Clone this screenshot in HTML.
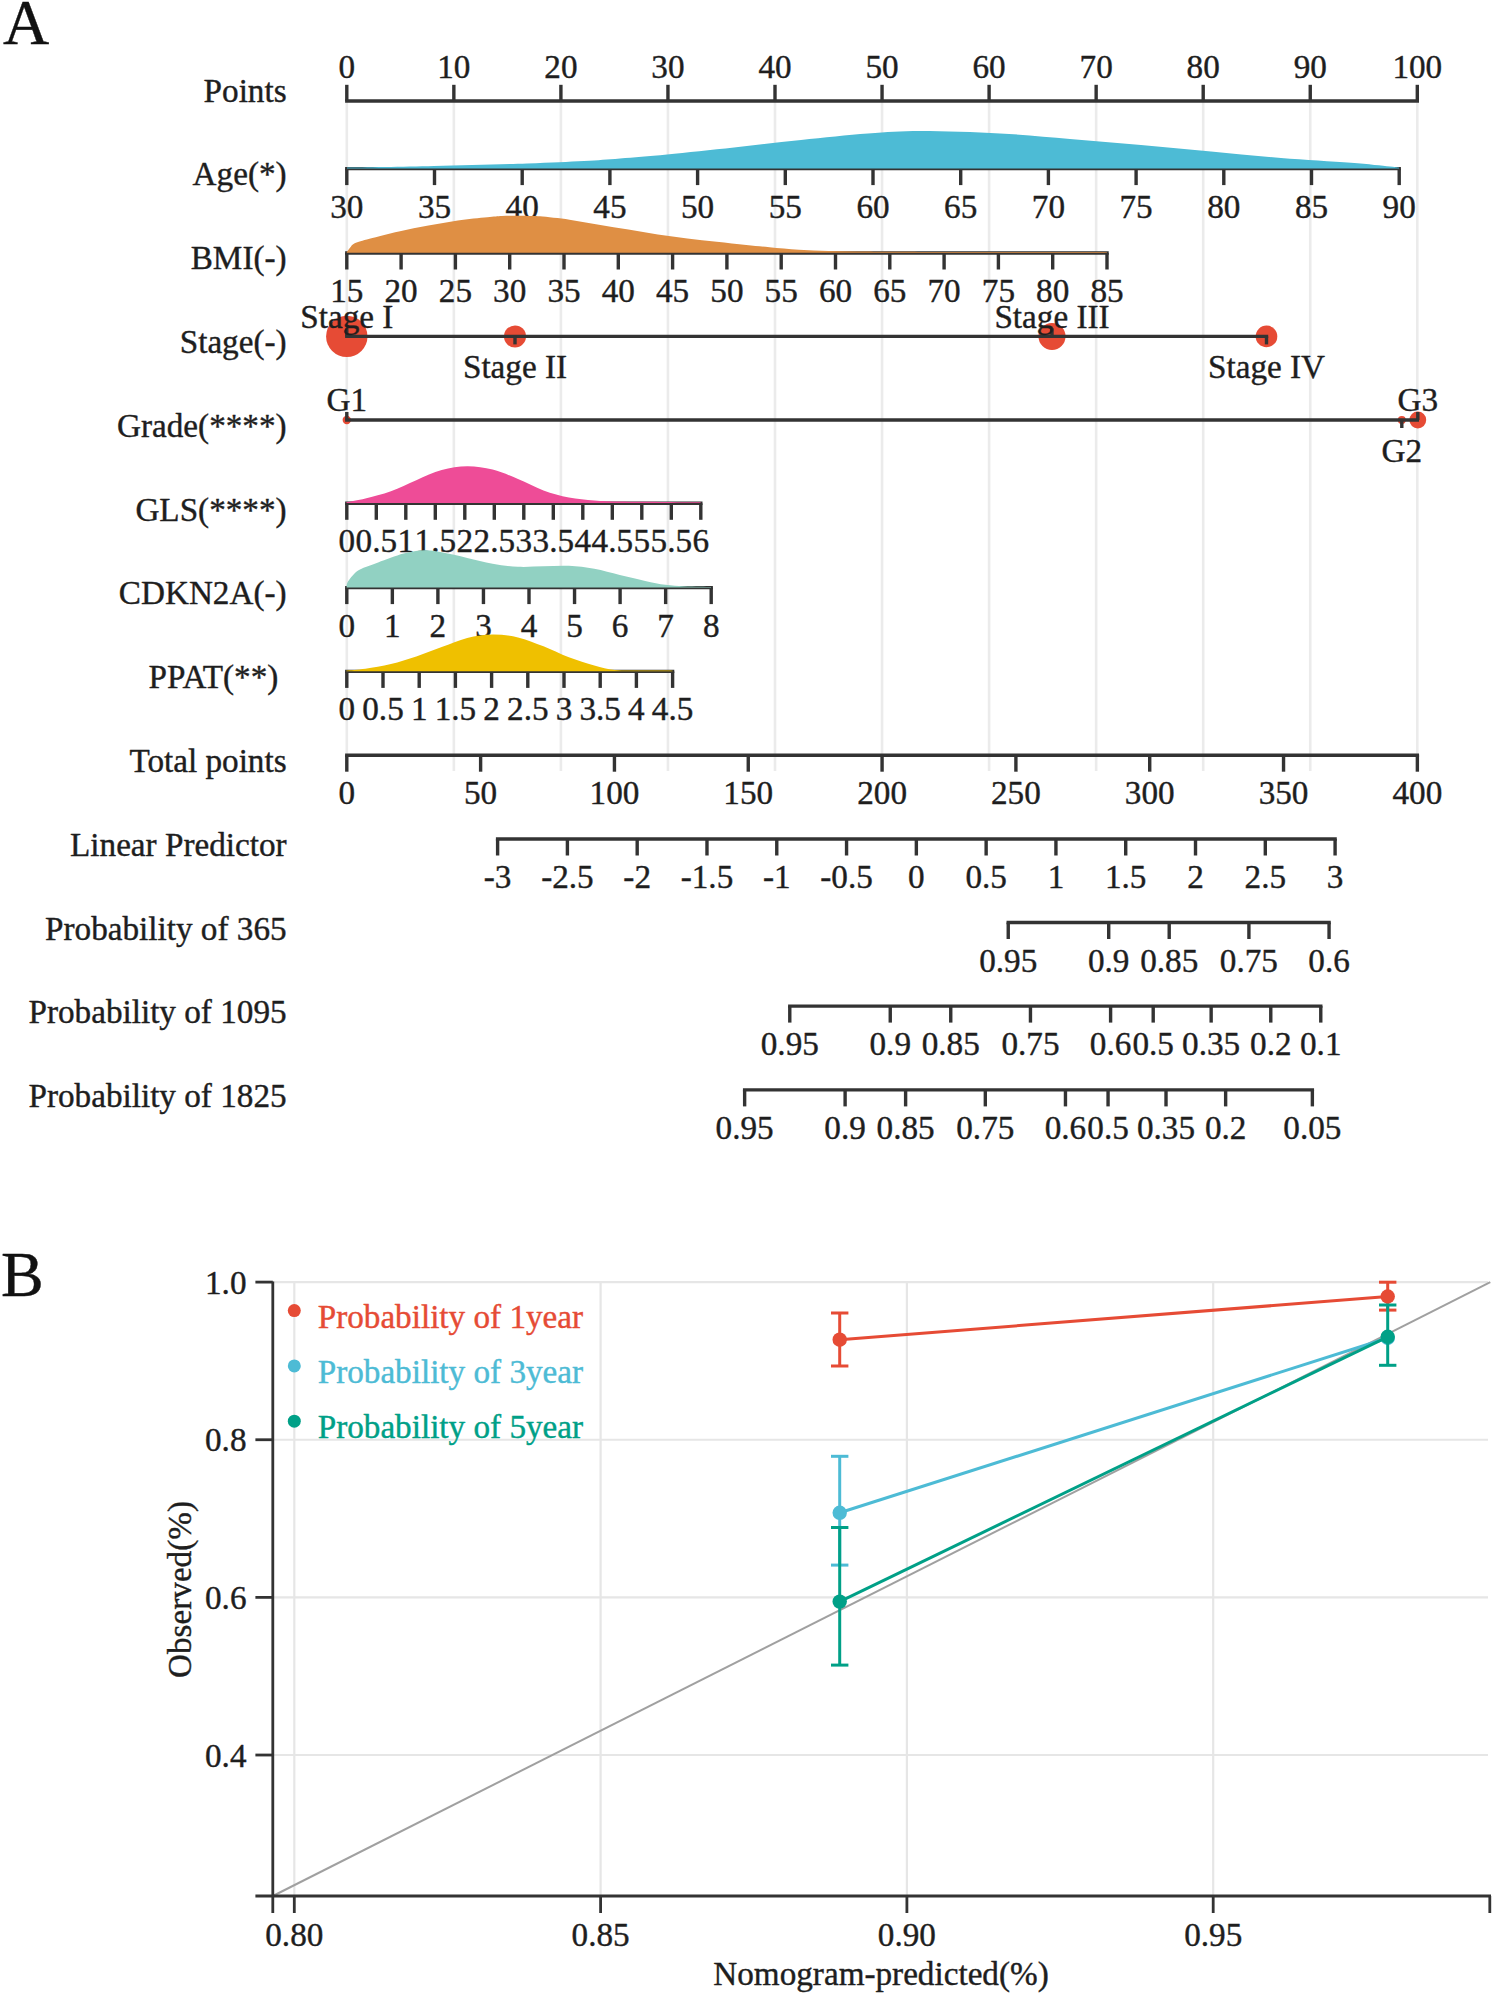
<!DOCTYPE html>
<html><head><meta charset="utf-8"><title>Nomogram and calibration</title>
<style>
html,body{margin:0;padding:0;background:#fff;}
body{width:1494px;height:1996px;overflow:hidden;}
svg{display:block;}
#wrap{}
text{font-family:"Liberation Serif",serif;stroke-width:0.4px;stroke-linejoin:round;}
</style></head>
<body>
<div id="wrap"><svg width="1494" height="1996" viewBox="0 0 1494 1996">
<rect x="0" y="0" width="1494" height="1996" fill="#fff"/>
<g>
<line x1="346.8" y1="101" x2="346.8" y2="771" stroke="#ebebeb" stroke-width="2.6"/>
<line x1="453.85" y1="101" x2="453.85" y2="771" stroke="#ebebeb" stroke-width="2.6"/>
<line x1="560.9" y1="101" x2="560.9" y2="771" stroke="#ebebeb" stroke-width="2.6"/>
<line x1="667.95" y1="101" x2="667.95" y2="771" stroke="#ebebeb" stroke-width="2.6"/>
<line x1="775" y1="101" x2="775" y2="771" stroke="#ebebeb" stroke-width="2.6"/>
<line x1="882.05" y1="101" x2="882.05" y2="771" stroke="#ebebeb" stroke-width="2.6"/>
<line x1="989.1" y1="101" x2="989.1" y2="771" stroke="#ebebeb" stroke-width="2.6"/>
<line x1="1096.15" y1="101" x2="1096.15" y2="771" stroke="#ebebeb" stroke-width="2.6"/>
<line x1="1203.2" y1="101" x2="1203.2" y2="771" stroke="#ebebeb" stroke-width="2.6"/>
<line x1="1310.25" y1="101" x2="1310.25" y2="771" stroke="#ebebeb" stroke-width="2.6"/>
<line x1="1417.3" y1="101" x2="1417.3" y2="771" stroke="#ebebeb" stroke-width="2.6"/>
<text x="3" y="43.5" text-anchor="start" font-size="64" fill="#111" stroke="#111">A</text>
<text x="286.6" y="101.6" text-anchor="end" font-size="33.2" fill="#1e1e1e" stroke="#1e1e1e">Points</text>
<text x="286.6" y="185.4" text-anchor="end" font-size="33.2" fill="#1e1e1e" stroke="#1e1e1e">Age(*)</text>
<text x="286.6" y="269.2" text-anchor="end" font-size="33.2" fill="#1e1e1e" stroke="#1e1e1e">BMI(-)</text>
<text x="286.6" y="353" text-anchor="end" font-size="33.2" fill="#1e1e1e" stroke="#1e1e1e">Stage(-)</text>
<text x="286.6" y="436.8" text-anchor="end" font-size="33.2" fill="#1e1e1e" stroke="#1e1e1e">Grade(****)</text>
<text x="286.6" y="520.6" text-anchor="end" font-size="33.2" fill="#1e1e1e" stroke="#1e1e1e">GLS(****)</text>
<text x="286.6" y="604.4" text-anchor="end" font-size="33.2" fill="#1e1e1e" stroke="#1e1e1e">CDKN2A(-)</text>
<text x="286.6" y="688.2" text-anchor="end" font-size="33.2" fill="#1e1e1e" stroke="#1e1e1e">PPAT(**) </text>
<text x="286.6" y="772" text-anchor="end" font-size="33.2" fill="#1e1e1e" stroke="#1e1e1e">Total points</text>
<text x="286.6" y="855.8" text-anchor="end" font-size="33.2" fill="#1e1e1e" stroke="#1e1e1e">Linear Predictor</text>
<text x="286.6" y="939.6" text-anchor="end" font-size="33.2" fill="#1e1e1e" stroke="#1e1e1e">Probability of 365</text>
<text x="286.6" y="1023.4" text-anchor="end" font-size="33.2" fill="#1e1e1e" stroke="#1e1e1e">Probability of 1095</text>
<text x="286.6" y="1107.2" text-anchor="end" font-size="33.2" fill="#1e1e1e" stroke="#1e1e1e">Probability of 1825</text>
<line x1="345.1" y1="101" x2="1419" y2="101" stroke="#333333" stroke-width="3.4"/>
<line x1="346.8" y1="101" x2="346.8" y2="84.8" stroke="#333333" stroke-width="3.4"/>
<text x="346.8" y="77.5" text-anchor="middle" font-size="33.2" fill="#1e1e1e" stroke="#1e1e1e">0</text>
<line x1="453.85" y1="101" x2="453.85" y2="84.8" stroke="#333333" stroke-width="3.4"/>
<text x="453.85" y="77.5" text-anchor="middle" font-size="33.2" fill="#1e1e1e" stroke="#1e1e1e">10</text>
<line x1="560.9" y1="101" x2="560.9" y2="84.8" stroke="#333333" stroke-width="3.4"/>
<text x="560.9" y="77.5" text-anchor="middle" font-size="33.2" fill="#1e1e1e" stroke="#1e1e1e">20</text>
<line x1="667.95" y1="101" x2="667.95" y2="84.8" stroke="#333333" stroke-width="3.4"/>
<text x="667.95" y="77.5" text-anchor="middle" font-size="33.2" fill="#1e1e1e" stroke="#1e1e1e">30</text>
<line x1="775" y1="101" x2="775" y2="84.8" stroke="#333333" stroke-width="3.4"/>
<text x="775" y="77.5" text-anchor="middle" font-size="33.2" fill="#1e1e1e" stroke="#1e1e1e">40</text>
<line x1="882.05" y1="101" x2="882.05" y2="84.8" stroke="#333333" stroke-width="3.4"/>
<text x="882.05" y="77.5" text-anchor="middle" font-size="33.2" fill="#1e1e1e" stroke="#1e1e1e">50</text>
<line x1="989.1" y1="101" x2="989.1" y2="84.8" stroke="#333333" stroke-width="3.4"/>
<text x="989.1" y="77.5" text-anchor="middle" font-size="33.2" fill="#1e1e1e" stroke="#1e1e1e">60</text>
<line x1="1096.15" y1="101" x2="1096.15" y2="84.8" stroke="#333333" stroke-width="3.4"/>
<text x="1096.15" y="77.5" text-anchor="middle" font-size="33.2" fill="#1e1e1e" stroke="#1e1e1e">70</text>
<line x1="1203.2" y1="101" x2="1203.2" y2="84.8" stroke="#333333" stroke-width="3.4"/>
<text x="1203.2" y="77.5" text-anchor="middle" font-size="33.2" fill="#1e1e1e" stroke="#1e1e1e">80</text>
<line x1="1310.25" y1="101" x2="1310.25" y2="84.8" stroke="#333333" stroke-width="3.4"/>
<text x="1310.25" y="77.5" text-anchor="middle" font-size="33.2" fill="#1e1e1e" stroke="#1e1e1e">90</text>
<line x1="1417.3" y1="101" x2="1417.3" y2="84.8" stroke="#333333" stroke-width="3.4"/>
<text x="1417.3" y="77.5" text-anchor="middle" font-size="33.2" fill="#1e1e1e" stroke="#1e1e1e">100</text>
<line x1="345.1" y1="168.6" x2="1400.9" y2="168.6" stroke="#333333" stroke-width="3.4"/>
<line x1="346.8" y1="168.6" x2="346.8" y2="185.1" stroke="#333333" stroke-width="3.4"/>
<text x="346.8" y="217.6" text-anchor="middle" font-size="33.2" fill="#1e1e1e" stroke="#1e1e1e">30</text>
<line x1="434.5" y1="168.6" x2="434.5" y2="185.1" stroke="#333333" stroke-width="3.4"/>
<text x="434.5" y="217.6" text-anchor="middle" font-size="33.2" fill="#1e1e1e" stroke="#1e1e1e">35</text>
<line x1="522.2" y1="168.6" x2="522.2" y2="185.1" stroke="#333333" stroke-width="3.4"/>
<text x="522.2" y="217.6" text-anchor="middle" font-size="33.2" fill="#1e1e1e" stroke="#1e1e1e">40</text>
<line x1="609.9" y1="168.6" x2="609.9" y2="185.1" stroke="#333333" stroke-width="3.4"/>
<text x="609.9" y="217.6" text-anchor="middle" font-size="33.2" fill="#1e1e1e" stroke="#1e1e1e">45</text>
<line x1="697.6" y1="168.6" x2="697.6" y2="185.1" stroke="#333333" stroke-width="3.4"/>
<text x="697.6" y="217.6" text-anchor="middle" font-size="33.2" fill="#1e1e1e" stroke="#1e1e1e">50</text>
<line x1="785.3" y1="168.6" x2="785.3" y2="185.1" stroke="#333333" stroke-width="3.4"/>
<text x="785.3" y="217.6" text-anchor="middle" font-size="33.2" fill="#1e1e1e" stroke="#1e1e1e">55</text>
<line x1="873" y1="168.6" x2="873" y2="185.1" stroke="#333333" stroke-width="3.4"/>
<text x="873" y="217.6" text-anchor="middle" font-size="33.2" fill="#1e1e1e" stroke="#1e1e1e">60</text>
<line x1="960.7" y1="168.6" x2="960.7" y2="185.1" stroke="#333333" stroke-width="3.4"/>
<text x="960.7" y="217.6" text-anchor="middle" font-size="33.2" fill="#1e1e1e" stroke="#1e1e1e">65</text>
<line x1="1048.4" y1="168.6" x2="1048.4" y2="185.1" stroke="#333333" stroke-width="3.4"/>
<text x="1048.4" y="217.6" text-anchor="middle" font-size="33.2" fill="#1e1e1e" stroke="#1e1e1e">70</text>
<line x1="1136.1" y1="168.6" x2="1136.1" y2="185.1" stroke="#333333" stroke-width="3.4"/>
<text x="1136.1" y="217.6" text-anchor="middle" font-size="33.2" fill="#1e1e1e" stroke="#1e1e1e">75</text>
<line x1="1223.8" y1="168.6" x2="1223.8" y2="185.1" stroke="#333333" stroke-width="3.4"/>
<text x="1223.8" y="217.6" text-anchor="middle" font-size="33.2" fill="#1e1e1e" stroke="#1e1e1e">80</text>
<line x1="1311.5" y1="168.6" x2="1311.5" y2="185.1" stroke="#333333" stroke-width="3.4"/>
<text x="1311.5" y="217.6" text-anchor="middle" font-size="33.2" fill="#1e1e1e" stroke="#1e1e1e">85</text>
<line x1="1399.2" y1="168.6" x2="1399.2" y2="185.1" stroke="#333333" stroke-width="3.4"/>
<text x="1399.2" y="217.6" text-anchor="middle" font-size="33.2" fill="#1e1e1e" stroke="#1e1e1e">90</text>
<path d="M 347 168.4 L 347 167.6 C 361.5 167.32 404 166.6 434 165.9 C 464 165.2 502 164.23 527 163.4 C 552 162.57 568.5 161.73 584 160.9 C 599.5 160.07 606.17 159.48 620 158.4 C 633.83 157.32 648 156.23 667 154.4 C 686 152.57 711.67 149.82 734 147.4 C 756.33 144.98 778.67 142.23 801 139.9 C 823.33 137.57 848 134.9 868 133.4 C 888 131.9 899 130.9 921 130.9 C 943 130.9 975.17 132.07 1000 133.4 C 1024.83 134.73 1046.5 136.95 1070 138.9 C 1093.5 140.85 1117.5 142.98 1141 145.1 C 1164.5 147.22 1187.67 149.45 1211 151.6 C 1234.33 153.75 1257.67 156.13 1281 158 C 1304.33 159.87 1332.83 161.37 1351 162.8 C 1369.17 164.23 1382 165.77 1390 166.6 C 1398 167.43 1397.5 167.6 1399 167.8 L 1399 168.4 Z" fill="#4DBBD5"/>
<line x1="345.1" y1="253" x2="1108.7" y2="253" stroke="#333333" stroke-width="3.4"/>
<line x1="346.8" y1="253" x2="346.8" y2="269.5" stroke="#333333" stroke-width="3.4"/>
<text x="346.8" y="302" text-anchor="middle" font-size="33.2" fill="#1e1e1e" stroke="#1e1e1e">15</text>
<line x1="401.1" y1="253" x2="401.1" y2="269.5" stroke="#333333" stroke-width="3.4"/>
<text x="401.1" y="302" text-anchor="middle" font-size="33.2" fill="#1e1e1e" stroke="#1e1e1e">20</text>
<line x1="455.4" y1="253" x2="455.4" y2="269.5" stroke="#333333" stroke-width="3.4"/>
<text x="455.4" y="302" text-anchor="middle" font-size="33.2" fill="#1e1e1e" stroke="#1e1e1e">25</text>
<line x1="509.7" y1="253" x2="509.7" y2="269.5" stroke="#333333" stroke-width="3.4"/>
<text x="509.7" y="302" text-anchor="middle" font-size="33.2" fill="#1e1e1e" stroke="#1e1e1e">30</text>
<line x1="564" y1="253" x2="564" y2="269.5" stroke="#333333" stroke-width="3.4"/>
<text x="564" y="302" text-anchor="middle" font-size="33.2" fill="#1e1e1e" stroke="#1e1e1e">35</text>
<line x1="618.3" y1="253" x2="618.3" y2="269.5" stroke="#333333" stroke-width="3.4"/>
<text x="618.3" y="302" text-anchor="middle" font-size="33.2" fill="#1e1e1e" stroke="#1e1e1e">40</text>
<line x1="672.6" y1="253" x2="672.6" y2="269.5" stroke="#333333" stroke-width="3.4"/>
<text x="672.6" y="302" text-anchor="middle" font-size="33.2" fill="#1e1e1e" stroke="#1e1e1e">45</text>
<line x1="726.9" y1="253" x2="726.9" y2="269.5" stroke="#333333" stroke-width="3.4"/>
<text x="726.9" y="302" text-anchor="middle" font-size="33.2" fill="#1e1e1e" stroke="#1e1e1e">50</text>
<line x1="781.2" y1="253" x2="781.2" y2="269.5" stroke="#333333" stroke-width="3.4"/>
<text x="781.2" y="302" text-anchor="middle" font-size="33.2" fill="#1e1e1e" stroke="#1e1e1e">55</text>
<line x1="835.5" y1="253" x2="835.5" y2="269.5" stroke="#333333" stroke-width="3.4"/>
<text x="835.5" y="302" text-anchor="middle" font-size="33.2" fill="#1e1e1e" stroke="#1e1e1e">60</text>
<line x1="889.8" y1="253" x2="889.8" y2="269.5" stroke="#333333" stroke-width="3.4"/>
<text x="889.8" y="302" text-anchor="middle" font-size="33.2" fill="#1e1e1e" stroke="#1e1e1e">65</text>
<line x1="944.1" y1="253" x2="944.1" y2="269.5" stroke="#333333" stroke-width="3.4"/>
<text x="944.1" y="302" text-anchor="middle" font-size="33.2" fill="#1e1e1e" stroke="#1e1e1e">70</text>
<line x1="998.4" y1="253" x2="998.4" y2="269.5" stroke="#333333" stroke-width="3.4"/>
<text x="998.4" y="302" text-anchor="middle" font-size="33.2" fill="#1e1e1e" stroke="#1e1e1e">75</text>
<line x1="1052.7" y1="253" x2="1052.7" y2="269.5" stroke="#333333" stroke-width="3.4"/>
<text x="1052.7" y="302" text-anchor="middle" font-size="33.2" fill="#1e1e1e" stroke="#1e1e1e">80</text>
<line x1="1107" y1="253" x2="1107" y2="269.5" stroke="#333333" stroke-width="3.4"/>
<text x="1107" y="302" text-anchor="middle" font-size="33.2" fill="#1e1e1e" stroke="#1e1e1e">85</text>
<path d="M 346.8 252.8 L 346.8 252.1 C 347.33 251.38 348.68 249.27 350 247.8 C 351.32 246.33 351.45 244.8 354.7 243.3 C 357.95 241.8 362.13 240.77 369.5 238.8 C 376.87 236.83 389.08 233.7 398.9 231.5 C 408.72 229.3 418.58 227.45 428.4 225.6 C 438.22 223.75 447.98 221.8 457.8 220.4 C 467.62 219 479.93 217.93 487.3 217.2 C 494.67 216.47 497.1 216.25 502 216 C 506.9 215.75 511.87 215.72 516.7 215.7 C 521.53 215.68 527.12 215.8 531 215.9 C 534.88 216 533.58 215.67 540 216.3 C 546.42 216.93 559.68 218.28 569.5 219.7 C 579.32 221.12 589.08 223.15 598.9 224.8 C 608.72 226.45 618.58 228 628.4 229.6 C 638.22 231.2 647.98 232.93 657.8 234.4 C 667.62 235.87 677.48 237.17 687.3 238.4 C 697.12 239.63 706.88 240.7 716.7 241.8 C 726.52 242.9 737.4 244.08 746.2 245 C 755 245.92 760.72 246.5 769.5 247.3 C 778.28 248.1 789.08 249.18 798.9 249.8 C 808.72 250.42 818.58 250.7 828.4 251 C 838.22 251.3 847.98 251.47 857.8 251.6 C 867.62 251.73 871.93 251.73 887.3 251.8 C 902.67 251.87 913.38 251.93 950 252 C 986.62 252.07 1080.83 252.17 1107 252.2 L 1107 252.8 Z" fill="#DF8F44"/>
<circle cx="346.8" cy="336.4" r="20.7" fill="#E64B35"/>
<circle cx="515" cy="336.4" r="11" fill="#E64B35"/>
<circle cx="1052" cy="336.4" r="13.5" fill="#E64B35"/>
<circle cx="1266.5" cy="336.4" r="10.8" fill="#E64B35"/>
<line x1="345.1" y1="336.4" x2="1268.2" y2="336.4" stroke="#333333" stroke-width="3.4"/>
<line x1="346.8" y1="336.4" x2="346.8" y2="328.4" stroke="#333333" stroke-width="3.4"/>
<text x="346.8" y="327.9" text-anchor="middle" font-size="33.2" fill="#1e1e1e" stroke="#1e1e1e">Stage I</text>
<line x1="515" y1="336.4" x2="515" y2="344.4" stroke="#333333" stroke-width="3.4"/>
<text x="515" y="377.9" text-anchor="middle" font-size="33.2" fill="#1e1e1e" stroke="#1e1e1e">Stage II</text>
<line x1="1052" y1="336.4" x2="1052" y2="328.4" stroke="#333333" stroke-width="3.4"/>
<text x="1052" y="327.9" text-anchor="middle" font-size="33.2" fill="#1e1e1e" stroke="#1e1e1e">Stage III</text>
<line x1="1266.5" y1="336.4" x2="1266.5" y2="344.4" stroke="#333333" stroke-width="3.4"/>
<text x="1266.5" y="377.9" text-anchor="middle" font-size="33.2" fill="#1e1e1e" stroke="#1e1e1e">Stage IV</text>
<circle cx="346.8" cy="420" r="4.2" fill="#E64B35"/>
<circle cx="1401.8" cy="420" r="4" fill="#E64B35"/>
<circle cx="1417.8" cy="420" r="8.4" fill="#E64B35"/>
<line x1="345.1" y1="420" x2="1419" y2="420" stroke="#333333" stroke-width="3.4"/>
<line x1="346.8" y1="420" x2="346.8" y2="412" stroke="#333333" stroke-width="3.4"/>
<text x="346.8" y="411.2" text-anchor="middle" font-size="33.2" fill="#1e1e1e" stroke="#1e1e1e">G1</text>
<line x1="1401.8" y1="420" x2="1401.8" y2="428" stroke="#333333" stroke-width="3.4"/>
<text x="1401.8" y="462" text-anchor="middle" font-size="33.2" fill="#1e1e1e" stroke="#1e1e1e">G2</text>
<line x1="1417.8" y1="420" x2="1417.8" y2="412" stroke="#333333" stroke-width="3.4"/>
<text x="1417.8" y="411.2" text-anchor="middle" font-size="33.2" fill="#1e1e1e" stroke="#1e1e1e">G3</text>
<line x1="345.1" y1="503.3" x2="702.5" y2="503.3" stroke="#333333" stroke-width="3.4"/>
<line x1="346.8" y1="503.3" x2="346.8" y2="519.8" stroke="#333333" stroke-width="3.4"/>
<text x="346.8" y="552.3" text-anchor="middle" font-size="33.2" fill="#1e1e1e" stroke="#1e1e1e">0</text>
<line x1="376.3" y1="503.3" x2="376.3" y2="519.8" stroke="#333333" stroke-width="3.4"/>
<text x="376.3" y="552.3" text-anchor="middle" font-size="33.2" fill="#1e1e1e" stroke="#1e1e1e">0.5</text>
<line x1="405.8" y1="503.3" x2="405.8" y2="519.8" stroke="#333333" stroke-width="3.4"/>
<text x="405.8" y="552.3" text-anchor="middle" font-size="33.2" fill="#1e1e1e" stroke="#1e1e1e">1</text>
<line x1="435.3" y1="503.3" x2="435.3" y2="519.8" stroke="#333333" stroke-width="3.4"/>
<text x="435.3" y="552.3" text-anchor="middle" font-size="33.2" fill="#1e1e1e" stroke="#1e1e1e">1.5</text>
<line x1="464.8" y1="503.3" x2="464.8" y2="519.8" stroke="#333333" stroke-width="3.4"/>
<text x="464.8" y="552.3" text-anchor="middle" font-size="33.2" fill="#1e1e1e" stroke="#1e1e1e">2</text>
<line x1="494.3" y1="503.3" x2="494.3" y2="519.8" stroke="#333333" stroke-width="3.4"/>
<text x="494.3" y="552.3" text-anchor="middle" font-size="33.2" fill="#1e1e1e" stroke="#1e1e1e">2.5</text>
<line x1="523.8" y1="503.3" x2="523.8" y2="519.8" stroke="#333333" stroke-width="3.4"/>
<text x="523.8" y="552.3" text-anchor="middle" font-size="33.2" fill="#1e1e1e" stroke="#1e1e1e">3</text>
<line x1="553.3" y1="503.3" x2="553.3" y2="519.8" stroke="#333333" stroke-width="3.4"/>
<text x="553.3" y="552.3" text-anchor="middle" font-size="33.2" fill="#1e1e1e" stroke="#1e1e1e">3.5</text>
<line x1="582.8" y1="503.3" x2="582.8" y2="519.8" stroke="#333333" stroke-width="3.4"/>
<text x="582.8" y="552.3" text-anchor="middle" font-size="33.2" fill="#1e1e1e" stroke="#1e1e1e">4</text>
<line x1="612.3" y1="503.3" x2="612.3" y2="519.8" stroke="#333333" stroke-width="3.4"/>
<text x="612.3" y="552.3" text-anchor="middle" font-size="33.2" fill="#1e1e1e" stroke="#1e1e1e">4.5</text>
<line x1="641.8" y1="503.3" x2="641.8" y2="519.8" stroke="#333333" stroke-width="3.4"/>
<text x="641.8" y="552.3" text-anchor="middle" font-size="33.2" fill="#1e1e1e" stroke="#1e1e1e">5</text>
<line x1="671.3" y1="503.3" x2="671.3" y2="519.8" stroke="#333333" stroke-width="3.4"/>
<text x="671.3" y="552.3" text-anchor="middle" font-size="33.2" fill="#1e1e1e" stroke="#1e1e1e">5.5</text>
<line x1="700.8" y1="503.3" x2="700.8" y2="519.8" stroke="#333333" stroke-width="3.4"/>
<text x="700.8" y="552.3" text-anchor="middle" font-size="33.2" fill="#1e1e1e" stroke="#1e1e1e">6</text>
<path d="M 346.4 503.1 L 346.4 502.3 C 349.57 501.67 357.98 500.35 365.4 498.5 C 372.82 496.65 382.42 494.25 390.9 491.2 C 399.38 488.15 407.83 483.72 416.3 480.2 C 424.77 476.68 433.22 472.43 441.7 470.1 C 450.18 467.77 458.72 466.28 467.2 466.2 C 475.68 466.12 484.13 467.47 492.6 469.6 C 501.07 471.73 509.52 475.53 518 479 C 526.48 482.47 535.02 487.32 543.5 490.4 C 551.98 493.48 560.43 495.83 568.9 497.5 C 577.37 499.17 585.82 499.73 594.3 500.4 C 602.78 501.07 608.85 501.25 619.8 501.5 C 630.75 501.75 646.53 501.78 660 501.9 C 673.47 502.02 693.83 502.15 700.6 502.2 L 700.6 503.1 Z" fill="#EE4C97"/>
<line x1="345.1" y1="587.6" x2="712.9" y2="587.6" stroke="#333333" stroke-width="3.4"/>
<line x1="346.8" y1="587.6" x2="346.8" y2="604.1" stroke="#333333" stroke-width="3.4"/>
<text x="346.8" y="636.6" text-anchor="middle" font-size="33.2" fill="#1e1e1e" stroke="#1e1e1e">0</text>
<line x1="392.35" y1="587.6" x2="392.35" y2="604.1" stroke="#333333" stroke-width="3.4"/>
<text x="392.35" y="636.6" text-anchor="middle" font-size="33.2" fill="#1e1e1e" stroke="#1e1e1e">1</text>
<line x1="437.9" y1="587.6" x2="437.9" y2="604.1" stroke="#333333" stroke-width="3.4"/>
<text x="437.9" y="636.6" text-anchor="middle" font-size="33.2" fill="#1e1e1e" stroke="#1e1e1e">2</text>
<line x1="483.45" y1="587.6" x2="483.45" y2="604.1" stroke="#333333" stroke-width="3.4"/>
<text x="483.45" y="636.6" text-anchor="middle" font-size="33.2" fill="#1e1e1e" stroke="#1e1e1e">3</text>
<line x1="529" y1="587.6" x2="529" y2="604.1" stroke="#333333" stroke-width="3.4"/>
<text x="529" y="636.6" text-anchor="middle" font-size="33.2" fill="#1e1e1e" stroke="#1e1e1e">4</text>
<line x1="574.55" y1="587.6" x2="574.55" y2="604.1" stroke="#333333" stroke-width="3.4"/>
<text x="574.55" y="636.6" text-anchor="middle" font-size="33.2" fill="#1e1e1e" stroke="#1e1e1e">5</text>
<line x1="620.1" y1="587.6" x2="620.1" y2="604.1" stroke="#333333" stroke-width="3.4"/>
<text x="620.1" y="636.6" text-anchor="middle" font-size="33.2" fill="#1e1e1e" stroke="#1e1e1e">6</text>
<line x1="665.65" y1="587.6" x2="665.65" y2="604.1" stroke="#333333" stroke-width="3.4"/>
<text x="665.65" y="636.6" text-anchor="middle" font-size="33.2" fill="#1e1e1e" stroke="#1e1e1e">7</text>
<line x1="711.2" y1="587.6" x2="711.2" y2="604.1" stroke="#333333" stroke-width="3.4"/>
<text x="711.2" y="636.6" text-anchor="middle" font-size="33.2" fill="#1e1e1e" stroke="#1e1e1e">8</text>
<path d="M 346.6 587.4 L 346.6 585.4 C 346.83 584.77 346.98 583.27 348 581.6 C 349.02 579.93 350.7 577.43 352.7 575.4 C 354.7 573.37 355.77 571.55 360 569.4 C 364.23 567.25 370.83 565.13 378.1 562.5 C 385.37 559.87 395.95 555.63 403.6 553.6 C 411.25 551.57 417.65 550.52 424 550.3 C 430.35 550.08 434.5 551.03 441.7 552.3 C 448.9 553.57 458.72 555.98 467.2 557.9 C 475.68 559.82 484.13 562.32 492.6 563.8 C 501.07 565.28 509.52 566.38 518 566.8 C 526.48 567.22 535.02 566.47 543.5 566.3 C 551.98 566.13 560.43 565.38 568.9 565.8 C 577.37 566.22 585.82 567.27 594.3 568.8 C 602.78 570.33 611.32 572.98 619.8 575 C 628.28 577.02 637.58 579.27 645.2 580.9 C 652.82 582.53 659.15 583.92 665.5 584.8 C 671.85 585.68 677.55 585.88 683.3 586.2 C 689.05 586.52 695.38 586.55 700 586.7 C 704.62 586.85 709.17 587.03 711 587.1 L 711 587.4 Z" fill="#91D1C2"/>
<line x1="345.1" y1="671.4" x2="674.3" y2="671.4" stroke="#333333" stroke-width="3.4"/>
<line x1="346.8" y1="671.4" x2="346.8" y2="687.9" stroke="#333333" stroke-width="3.4"/>
<text x="346.8" y="720.4" text-anchor="middle" font-size="33.2" fill="#1e1e1e" stroke="#1e1e1e">0</text>
<line x1="383" y1="671.4" x2="383" y2="687.9" stroke="#333333" stroke-width="3.4"/>
<text x="383" y="720.4" text-anchor="middle" font-size="33.2" fill="#1e1e1e" stroke="#1e1e1e">0.5</text>
<line x1="419.2" y1="671.4" x2="419.2" y2="687.9" stroke="#333333" stroke-width="3.4"/>
<text x="419.2" y="720.4" text-anchor="middle" font-size="33.2" fill="#1e1e1e" stroke="#1e1e1e">1</text>
<line x1="455.4" y1="671.4" x2="455.4" y2="687.9" stroke="#333333" stroke-width="3.4"/>
<text x="455.4" y="720.4" text-anchor="middle" font-size="33.2" fill="#1e1e1e" stroke="#1e1e1e">1.5</text>
<line x1="491.6" y1="671.4" x2="491.6" y2="687.9" stroke="#333333" stroke-width="3.4"/>
<text x="491.6" y="720.4" text-anchor="middle" font-size="33.2" fill="#1e1e1e" stroke="#1e1e1e">2</text>
<line x1="527.8" y1="671.4" x2="527.8" y2="687.9" stroke="#333333" stroke-width="3.4"/>
<text x="527.8" y="720.4" text-anchor="middle" font-size="33.2" fill="#1e1e1e" stroke="#1e1e1e">2.5</text>
<line x1="564" y1="671.4" x2="564" y2="687.9" stroke="#333333" stroke-width="3.4"/>
<text x="564" y="720.4" text-anchor="middle" font-size="33.2" fill="#1e1e1e" stroke="#1e1e1e">3</text>
<line x1="600.2" y1="671.4" x2="600.2" y2="687.9" stroke="#333333" stroke-width="3.4"/>
<text x="600.2" y="720.4" text-anchor="middle" font-size="33.2" fill="#1e1e1e" stroke="#1e1e1e">3.5</text>
<line x1="636.4" y1="671.4" x2="636.4" y2="687.9" stroke="#333333" stroke-width="3.4"/>
<text x="636.4" y="720.4" text-anchor="middle" font-size="33.2" fill="#1e1e1e" stroke="#1e1e1e">4</text>
<line x1="672.6" y1="671.4" x2="672.6" y2="687.9" stroke="#333333" stroke-width="3.4"/>
<text x="672.6" y="720.4" text-anchor="middle" font-size="33.2" fill="#1e1e1e" stroke="#1e1e1e">4.5</text>
<path d="M 346.4 671.2 L 346.4 670.5 C 349.57 670.2 357.98 669.77 365.4 668.7 C 372.82 667.63 382.42 666.13 390.9 664.1 C 399.38 662.07 407.83 659.33 416.3 656.5 C 424.77 653.67 433.22 650.2 441.7 647.1 C 450.18 644 458.72 640.02 467.2 637.9 C 475.68 635.78 484.13 634.48 492.6 634.4 C 501.07 634.32 509.52 635.42 518 637.4 C 526.48 639.38 535.02 642.98 543.5 646.3 C 551.98 649.62 560.43 654.12 568.9 657.3 C 577.37 660.48 586.67 663.28 594.3 665.4 C 601.93 667.52 607.08 669.13 614.7 670 C 622.32 670.87 630.35 670.48 640 670.6 C 649.65 670.72 667.17 670.68 672.6 670.7 L 672.6 671.2 Z" fill="#EFC000"/>
<line x1="345.1" y1="755.2" x2="1419.06" y2="755.2" stroke="#333333" stroke-width="3.4"/>
<line x1="346.8" y1="755.2" x2="346.8" y2="771.7" stroke="#333333" stroke-width="3.4"/>
<text x="346.8" y="804.2" text-anchor="middle" font-size="33.2" fill="#1e1e1e" stroke="#1e1e1e">0</text>
<line x1="480.62" y1="755.2" x2="480.62" y2="771.7" stroke="#333333" stroke-width="3.4"/>
<text x="480.62" y="804.2" text-anchor="middle" font-size="33.2" fill="#1e1e1e" stroke="#1e1e1e">50</text>
<line x1="614.44" y1="755.2" x2="614.44" y2="771.7" stroke="#333333" stroke-width="3.4"/>
<text x="614.44" y="804.2" text-anchor="middle" font-size="33.2" fill="#1e1e1e" stroke="#1e1e1e">100</text>
<line x1="748.26" y1="755.2" x2="748.26" y2="771.7" stroke="#333333" stroke-width="3.4"/>
<text x="748.26" y="804.2" text-anchor="middle" font-size="33.2" fill="#1e1e1e" stroke="#1e1e1e">150</text>
<line x1="882.08" y1="755.2" x2="882.08" y2="771.7" stroke="#333333" stroke-width="3.4"/>
<text x="882.08" y="804.2" text-anchor="middle" font-size="33.2" fill="#1e1e1e" stroke="#1e1e1e">200</text>
<line x1="1015.9" y1="755.2" x2="1015.9" y2="771.7" stroke="#333333" stroke-width="3.4"/>
<text x="1015.9" y="804.2" text-anchor="middle" font-size="33.2" fill="#1e1e1e" stroke="#1e1e1e">250</text>
<line x1="1149.72" y1="755.2" x2="1149.72" y2="771.7" stroke="#333333" stroke-width="3.4"/>
<text x="1149.72" y="804.2" text-anchor="middle" font-size="33.2" fill="#1e1e1e" stroke="#1e1e1e">300</text>
<line x1="1283.54" y1="755.2" x2="1283.54" y2="771.7" stroke="#333333" stroke-width="3.4"/>
<text x="1283.54" y="804.2" text-anchor="middle" font-size="33.2" fill="#1e1e1e" stroke="#1e1e1e">350</text>
<line x1="1417.36" y1="755.2" x2="1417.36" y2="771.7" stroke="#333333" stroke-width="3.4"/>
<text x="1417.36" y="804.2" text-anchor="middle" font-size="33.2" fill="#1e1e1e" stroke="#1e1e1e">400</text>
<line x1="495.91" y1="839" x2="1336.79" y2="839" stroke="#333333" stroke-width="3.4"/>
<line x1="497.61" y1="839" x2="497.61" y2="855.5" stroke="#333333" stroke-width="3.4"/>
<text x="497.61" y="888" text-anchor="middle" font-size="33.2" fill="#1e1e1e" stroke="#1e1e1e">-3</text>
<line x1="567.4" y1="839" x2="567.4" y2="855.5" stroke="#333333" stroke-width="3.4"/>
<text x="567.4" y="888" text-anchor="middle" font-size="33.2" fill="#1e1e1e" stroke="#1e1e1e">-2.5</text>
<line x1="637.19" y1="839" x2="637.19" y2="855.5" stroke="#333333" stroke-width="3.4"/>
<text x="637.19" y="888" text-anchor="middle" font-size="33.2" fill="#1e1e1e" stroke="#1e1e1e">-2</text>
<line x1="706.98" y1="839" x2="706.98" y2="855.5" stroke="#333333" stroke-width="3.4"/>
<text x="706.98" y="888" text-anchor="middle" font-size="33.2" fill="#1e1e1e" stroke="#1e1e1e">-1.5</text>
<line x1="776.77" y1="839" x2="776.77" y2="855.5" stroke="#333333" stroke-width="3.4"/>
<text x="776.77" y="888" text-anchor="middle" font-size="33.2" fill="#1e1e1e" stroke="#1e1e1e">-1</text>
<line x1="846.56" y1="839" x2="846.56" y2="855.5" stroke="#333333" stroke-width="3.4"/>
<text x="846.56" y="888" text-anchor="middle" font-size="33.2" fill="#1e1e1e" stroke="#1e1e1e">-0.5</text>
<line x1="916.35" y1="839" x2="916.35" y2="855.5" stroke="#333333" stroke-width="3.4"/>
<text x="916.35" y="888" text-anchor="middle" font-size="33.2" fill="#1e1e1e" stroke="#1e1e1e">0</text>
<line x1="986.14" y1="839" x2="986.14" y2="855.5" stroke="#333333" stroke-width="3.4"/>
<text x="986.14" y="888" text-anchor="middle" font-size="33.2" fill="#1e1e1e" stroke="#1e1e1e">0.5</text>
<line x1="1055.93" y1="839" x2="1055.93" y2="855.5" stroke="#333333" stroke-width="3.4"/>
<text x="1055.93" y="888" text-anchor="middle" font-size="33.2" fill="#1e1e1e" stroke="#1e1e1e">1</text>
<line x1="1125.72" y1="839" x2="1125.72" y2="855.5" stroke="#333333" stroke-width="3.4"/>
<text x="1125.72" y="888" text-anchor="middle" font-size="33.2" fill="#1e1e1e" stroke="#1e1e1e">1.5</text>
<line x1="1195.51" y1="839" x2="1195.51" y2="855.5" stroke="#333333" stroke-width="3.4"/>
<text x="1195.51" y="888" text-anchor="middle" font-size="33.2" fill="#1e1e1e" stroke="#1e1e1e">2</text>
<line x1="1265.3" y1="839" x2="1265.3" y2="855.5" stroke="#333333" stroke-width="3.4"/>
<text x="1265.3" y="888" text-anchor="middle" font-size="33.2" fill="#1e1e1e" stroke="#1e1e1e">2.5</text>
<line x1="1335.09" y1="839" x2="1335.09" y2="855.5" stroke="#333333" stroke-width="3.4"/>
<text x="1335.09" y="888" text-anchor="middle" font-size="33.2" fill="#1e1e1e" stroke="#1e1e1e">3</text>
<line x1="1006.54" y1="922.5" x2="1330.76" y2="922.5" stroke="#333333" stroke-width="3.4"/>
<line x1="1008.24" y1="922.5" x2="1008.24" y2="939" stroke="#333333" stroke-width="3.4"/>
<text x="1008.24" y="971.5" text-anchor="middle" font-size="33.2" fill="#1e1e1e" stroke="#1e1e1e">0.95</text>
<line x1="1108.71" y1="922.5" x2="1108.71" y2="939" stroke="#333333" stroke-width="3.4"/>
<text x="1108.71" y="971.5" text-anchor="middle" font-size="33.2" fill="#1e1e1e" stroke="#1e1e1e">0.9</text>
<line x1="1169.2" y1="922.5" x2="1169.2" y2="939" stroke="#333333" stroke-width="3.4"/>
<text x="1169.2" y="971.5" text-anchor="middle" font-size="33.2" fill="#1e1e1e" stroke="#1e1e1e">0.85</text>
<line x1="1248.91" y1="922.5" x2="1248.91" y2="939" stroke="#333333" stroke-width="3.4"/>
<text x="1248.91" y="971.5" text-anchor="middle" font-size="33.2" fill="#1e1e1e" stroke="#1e1e1e">0.75</text>
<line x1="1329.06" y1="922.5" x2="1329.06" y2="939" stroke="#333333" stroke-width="3.4"/>
<text x="1329.06" y="971.5" text-anchor="middle" font-size="33.2" fill="#1e1e1e" stroke="#1e1e1e">0.6</text>
<line x1="788.08" y1="1006.1" x2="1322.47" y2="1006.1" stroke="#333333" stroke-width="3.4"/>
<line x1="789.78" y1="1006.1" x2="789.78" y2="1022.6" stroke="#333333" stroke-width="3.4"/>
<text x="789.78" y="1055.1" text-anchor="middle" font-size="33.2" fill="#1e1e1e" stroke="#1e1e1e">0.95</text>
<line x1="890.25" y1="1006.1" x2="890.25" y2="1022.6" stroke="#333333" stroke-width="3.4"/>
<text x="890.25" y="1055.1" text-anchor="middle" font-size="33.2" fill="#1e1e1e" stroke="#1e1e1e">0.9</text>
<line x1="950.75" y1="1006.1" x2="950.75" y2="1022.6" stroke="#333333" stroke-width="3.4"/>
<text x="950.75" y="1055.1" text-anchor="middle" font-size="33.2" fill="#1e1e1e" stroke="#1e1e1e">0.85</text>
<line x1="1030.46" y1="1006.1" x2="1030.46" y2="1022.6" stroke="#333333" stroke-width="3.4"/>
<text x="1030.46" y="1055.1" text-anchor="middle" font-size="33.2" fill="#1e1e1e" stroke="#1e1e1e">0.75</text>
<line x1="1110.6" y1="1006.1" x2="1110.6" y2="1022.6" stroke="#333333" stroke-width="3.4"/>
<text x="1110.6" y="1055.1" text-anchor="middle" font-size="33.2" fill="#1e1e1e" stroke="#1e1e1e">0.6</text>
<line x1="1153.2" y1="1006.1" x2="1153.2" y2="1022.6" stroke="#333333" stroke-width="3.4"/>
<text x="1153.2" y="1055.1" text-anchor="middle" font-size="33.2" fill="#1e1e1e" stroke="#1e1e1e">0.5</text>
<line x1="1211.15" y1="1006.1" x2="1211.15" y2="1022.6" stroke="#333333" stroke-width="3.4"/>
<text x="1211.15" y="1055.1" text-anchor="middle" font-size="33.2" fill="#1e1e1e" stroke="#1e1e1e">0.35</text>
<line x1="1270.78" y1="1006.1" x2="1270.78" y2="1022.6" stroke="#333333" stroke-width="3.4"/>
<text x="1270.78" y="1055.1" text-anchor="middle" font-size="33.2" fill="#1e1e1e" stroke="#1e1e1e">0.2</text>
<line x1="1320.77" y1="1006.1" x2="1320.77" y2="1022.6" stroke="#333333" stroke-width="3.4"/>
<text x="1320.77" y="1055.1" text-anchor="middle" font-size="33.2" fill="#1e1e1e" stroke="#1e1e1e">0.1</text>
<line x1="742.94" y1="1089.9" x2="1314.06" y2="1089.9" stroke="#333333" stroke-width="3.4"/>
<line x1="744.64" y1="1089.9" x2="744.64" y2="1106.4" stroke="#333333" stroke-width="3.4"/>
<text x="744.64" y="1138.9" text-anchor="middle" font-size="33.2" fill="#1e1e1e" stroke="#1e1e1e">0.95</text>
<line x1="845.11" y1="1089.9" x2="845.11" y2="1106.4" stroke="#333333" stroke-width="3.4"/>
<text x="845.11" y="1138.9" text-anchor="middle" font-size="33.2" fill="#1e1e1e" stroke="#1e1e1e">0.9</text>
<line x1="905.61" y1="1089.9" x2="905.61" y2="1106.4" stroke="#333333" stroke-width="3.4"/>
<text x="905.61" y="1138.9" text-anchor="middle" font-size="33.2" fill="#1e1e1e" stroke="#1e1e1e">0.85</text>
<line x1="985.32" y1="1089.9" x2="985.32" y2="1106.4" stroke="#333333" stroke-width="3.4"/>
<text x="985.32" y="1138.9" text-anchor="middle" font-size="33.2" fill="#1e1e1e" stroke="#1e1e1e">0.75</text>
<line x1="1065.46" y1="1089.9" x2="1065.46" y2="1106.4" stroke="#333333" stroke-width="3.4"/>
<text x="1065.46" y="1138.9" text-anchor="middle" font-size="33.2" fill="#1e1e1e" stroke="#1e1e1e">0.6</text>
<line x1="1108.06" y1="1089.9" x2="1108.06" y2="1106.4" stroke="#333333" stroke-width="3.4"/>
<text x="1108.06" y="1138.9" text-anchor="middle" font-size="33.2" fill="#1e1e1e" stroke="#1e1e1e">0.5</text>
<line x1="1166.01" y1="1089.9" x2="1166.01" y2="1106.4" stroke="#333333" stroke-width="3.4"/>
<text x="1166.01" y="1138.9" text-anchor="middle" font-size="33.2" fill="#1e1e1e" stroke="#1e1e1e">0.35</text>
<line x1="1225.64" y1="1089.9" x2="1225.64" y2="1106.4" stroke="#333333" stroke-width="3.4"/>
<text x="1225.64" y="1138.9" text-anchor="middle" font-size="33.2" fill="#1e1e1e" stroke="#1e1e1e">0.2</text>
<line x1="1312.36" y1="1089.9" x2="1312.36" y2="1106.4" stroke="#333333" stroke-width="3.4"/>
<text x="1312.36" y="1138.9" text-anchor="middle" font-size="33.2" fill="#1e1e1e" stroke="#1e1e1e">0.05</text>
<text x="1" y="1295.5" text-anchor="start" font-size="64" fill="#111" stroke="#111">B</text>
<line x1="272.8" y1="1282.1" x2="1488" y2="1282.1" stroke="#e6e6e6" stroke-width="2.2"/>
<line x1="272.8" y1="1439.74" x2="1488" y2="1439.74" stroke="#e6e6e6" stroke-width="2.2"/>
<line x1="272.8" y1="1597.38" x2="1488" y2="1597.38" stroke="#e6e6e6" stroke-width="2.2"/>
<line x1="272.8" y1="1755.02" x2="1488" y2="1755.02" stroke="#e6e6e6" stroke-width="2.2"/>
<line x1="294.3" y1="1281.4" x2="294.3" y2="1896" stroke="#e6e6e6" stroke-width="2.2"/>
<line x1="600.6" y1="1281.4" x2="600.6" y2="1896" stroke="#e6e6e6" stroke-width="2.2"/>
<line x1="906.9" y1="1281.4" x2="906.9" y2="1896" stroke="#e6e6e6" stroke-width="2.2"/>
<line x1="1213.2" y1="1281.4" x2="1213.2" y2="1896" stroke="#e6e6e6" stroke-width="2.2"/>
<line x1="272.8" y1="1896" x2="1490.3" y2="1282.2" stroke="#a0a0a0" stroke-width="2.0"/>
<line x1="272.8" y1="1281.4" x2="272.8" y2="1913" stroke="#333333" stroke-width="2.8"/>
<line x1="255.4" y1="1896" x2="1491" y2="1896" stroke="#333333" stroke-width="2.8"/>
<line x1="255.4" y1="1282.1" x2="272.8" y2="1282.1" stroke="#333333" stroke-width="2.8"/>
<text x="246.5" y="1293.6" text-anchor="end" font-size="33.2" fill="#1e1e1e" stroke="#1e1e1e">1.0</text>
<line x1="255.4" y1="1439.74" x2="272.8" y2="1439.74" stroke="#333333" stroke-width="2.8"/>
<text x="246.5" y="1451.24" text-anchor="end" font-size="33.2" fill="#1e1e1e" stroke="#1e1e1e">0.8</text>
<line x1="255.4" y1="1597.38" x2="272.8" y2="1597.38" stroke="#333333" stroke-width="2.8"/>
<text x="246.5" y="1608.88" text-anchor="end" font-size="33.2" fill="#1e1e1e" stroke="#1e1e1e">0.6</text>
<line x1="255.4" y1="1755.02" x2="272.8" y2="1755.02" stroke="#333333" stroke-width="2.8"/>
<text x="246.5" y="1766.52" text-anchor="end" font-size="33.2" fill="#1e1e1e" stroke="#1e1e1e">0.4</text>
<text x="246.5" y="1451.24" text-anchor="end" font-size="33.2" fill="#1e1e1e" stroke="#1e1e1e"></text>
<line x1="294.3" y1="1896" x2="294.3" y2="1913" stroke="#333333" stroke-width="2.8"/>
<text x="294.3" y="1946" text-anchor="middle" font-size="33.2" fill="#1e1e1e" stroke="#1e1e1e">0.80</text>
<line x1="600.6" y1="1896" x2="600.6" y2="1913" stroke="#333333" stroke-width="2.8"/>
<text x="600.6" y="1946" text-anchor="middle" font-size="33.2" fill="#1e1e1e" stroke="#1e1e1e">0.85</text>
<line x1="906.9" y1="1896" x2="906.9" y2="1913" stroke="#333333" stroke-width="2.8"/>
<text x="906.9" y="1946" text-anchor="middle" font-size="33.2" fill="#1e1e1e" stroke="#1e1e1e">0.90</text>
<line x1="1213.2" y1="1896" x2="1213.2" y2="1913" stroke="#333333" stroke-width="2.8"/>
<text x="1213.2" y="1946" text-anchor="middle" font-size="33.2" fill="#1e1e1e" stroke="#1e1e1e">0.95</text>
<line x1="1489.8" y1="1896" x2="1489.8" y2="1913" stroke="#333333" stroke-width="2.8"/>
<text x="881" y="1985" text-anchor="middle" font-size="33.2" fill="#1e1e1e" stroke="#1e1e1e">Nomogram-predicted(%)</text>
<text x="0" y="0" text-anchor="middle" font-size="33.2" fill="#1e1e1e" stroke="#1e1e1e" transform="translate(191.3 1589.5) rotate(-90)">Observed(%)</text>
<line x1="839.7" y1="1339.7" x2="1387.7" y2="1296.5" stroke="#E64B35" stroke-width="3"/>
<line x1="839.7" y1="1313" x2="839.7" y2="1366" stroke="#E64B35" stroke-width="3"/>
<line x1="831" y1="1313" x2="848.4" y2="1313" stroke="#E64B35" stroke-width="3"/>
<line x1="831" y1="1366" x2="848.4" y2="1366" stroke="#E64B35" stroke-width="3"/>
<line x1="1387.7" y1="1282.2" x2="1387.7" y2="1310.1" stroke="#E64B35" stroke-width="3"/>
<line x1="1379" y1="1282.2" x2="1396.4" y2="1282.2" stroke="#E64B35" stroke-width="3"/>
<line x1="1379" y1="1310.1" x2="1396.4" y2="1310.1" stroke="#E64B35" stroke-width="3"/>
<circle cx="839.7" cy="1339.7" r="7.2" fill="#E64B35"/>
<circle cx="1387.7" cy="1296.5" r="7.2" fill="#E64B35"/>
<line x1="839.7" y1="1512.8" x2="1387.7" y2="1338" stroke="#4DBBD5" stroke-width="3"/>
<line x1="839.7" y1="1456.3" x2="839.7" y2="1565.1" stroke="#4DBBD5" stroke-width="3"/>
<line x1="831" y1="1456.3" x2="848.4" y2="1456.3" stroke="#4DBBD5" stroke-width="3"/>
<line x1="831" y1="1565.1" x2="848.4" y2="1565.1" stroke="#4DBBD5" stroke-width="3"/>
<circle cx="839.7" cy="1512.8" r="7.2" fill="#4DBBD5"/>
<circle cx="1387.7" cy="1338" r="7.2" fill="#4DBBD5"/>
<line x1="839.7" y1="1601.6" x2="1387.7" y2="1336.8" stroke="#00A087" stroke-width="3"/>
<line x1="839.7" y1="1527.5" x2="839.7" y2="1665.1" stroke="#00A087" stroke-width="3"/>
<line x1="831" y1="1527.5" x2="848.4" y2="1527.5" stroke="#00A087" stroke-width="3"/>
<line x1="831" y1="1665.1" x2="848.4" y2="1665.1" stroke="#00A087" stroke-width="3"/>
<line x1="1387.7" y1="1305" x2="1387.7" y2="1365.3" stroke="#00A087" stroke-width="3"/>
<line x1="1379" y1="1305" x2="1396.4" y2="1305" stroke="#00A087" stroke-width="3"/>
<line x1="1379" y1="1365.3" x2="1396.4" y2="1365.3" stroke="#00A087" stroke-width="3"/>
<circle cx="839.7" cy="1601.6" r="7.2" fill="#00A087"/>
<circle cx="1387.7" cy="1336.8" r="7.2" fill="#00A087"/>
<circle cx="294.3" cy="1310.6" r="6.5" fill="#E64B35"/>
<text x="317.7" y="1328" text-anchor="start" font-size="33.2" fill="#E64B35" stroke="#E64B35">Probability of 1year</text>
<circle cx="294.3" cy="1365.9" r="6.5" fill="#4DBBD5"/>
<text x="317.7" y="1383.2" text-anchor="start" font-size="33.2" fill="#4DBBD5" stroke="#4DBBD5">Probability of 3year</text>
<circle cx="294.3" cy="1421.2" r="6.5" fill="#00A087"/>
<text x="317.7" y="1438.4" text-anchor="start" font-size="33.2" fill="#00A087" stroke="#00A087">Probability of 5year</text>
</g>
</svg></div>
</body></html>
